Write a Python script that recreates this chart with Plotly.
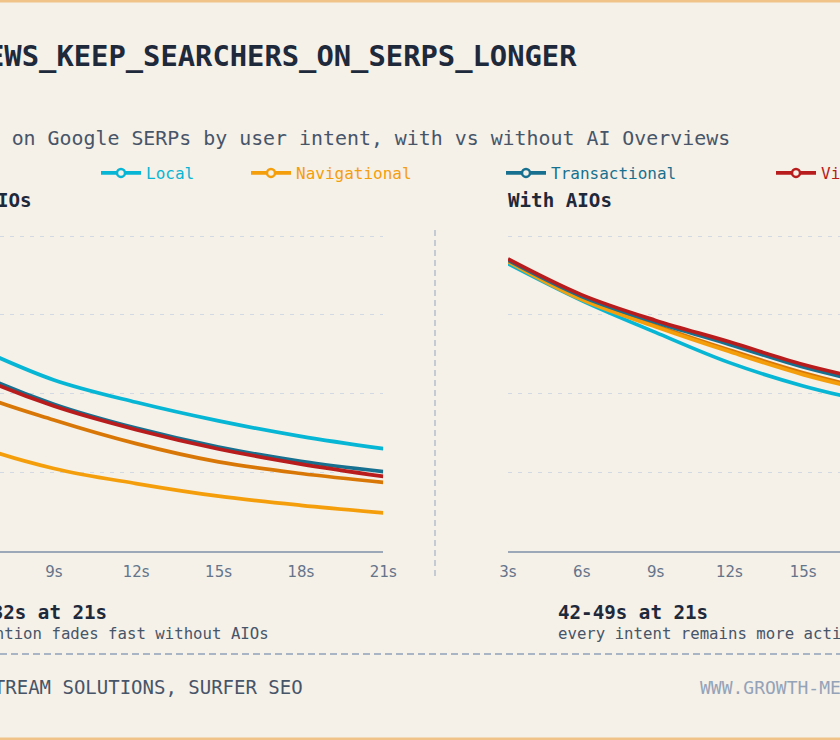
import plotly.graph_objects as go

# ---------------- data ----------------
times = [3, 6, 9, 12, 15, 18, 21]
series = ["Informational", "Local", "Navigational", "Transactional", "Visual"]
colors = ["#d97706", "#06b6d4", "#f59e0b", "#17708f", "#b91c1c"]

without_informational = [64.0, 50.5, 41.6, 34.1, 28.3, 24.6, 21.8]
without_local = [78.0, 65.3, 54.3, 47.2, 41.3, 36.4, 32.5]
without_navigational = [46.0, 34.0, 26.2, 21.4, 17.4, 14.5, 12.1]
without_transactional = [71.0, 57.2, 46.6, 39.0, 33.0, 28.5, 25.2]
without_visual = [70.0, 56.3, 46.0, 38.5, 32.4, 27.6, 23.7]

with_informational = [92.1, 80.1, 71.6, 63.8, 56.6, 50.8, 46.2]
with_local = [91.2, 79.5, 69.4, 59.8, 52.4, 46.8, 42.0]
with_navigational = [91.9, 79.8, 71.2, 63.3, 56.0, 50.3, 45.5]
with_transactional = [92.3, 80.8, 72.6, 65.6, 58.4, 52.8, 48.1]
with_visual = [92.7, 81.3, 73.2, 66.4, 59.2, 53.7, 49.0]

without_values = [without_informational, without_local, without_navigational,
                  without_transactional, without_visual]
with_values = [with_informational, with_local, with_navigational,
               with_transactional, with_visual]

tick_values = [3, 6, 9, 12, 15, 18, 21]
tick_labels = ["3s", "6s", "9s", "12s", "15s", "18s", "21s"]

title_text = "AI_OVERVIEWS_KEEP_SEARCHERS_ON_SERPS_LONGER"
subtitle_text = "Attention span on Google SERPs by user intent, with vs without AI Overviews"
left_panel_title = "Without AIOs"
right_panel_title = "With AIOs"
left_note_bold = "12-32s at 21s"
left_note = "attention fades fast without AIOs"
right_note_bold = "42-49s at 21s"
right_note = "every intent remains more active with AIOs"
footer_left = "SOURCE: UPSTREAM SOLUTIONS, SURFER SEO"
footer_right = "WWW.GROWTH-MEMO.COM"

# ---------------- style ----------------
W, H = 840, 740
BG = "#f5f0e8"
MONO = "DejaVu Sans Mono"
DARK = "#1e293b"
SLATE = "#475569"


def px(x):
    return x / W


def py(y):
    return 1 - y / H


fig = go.Figure()

for name, col, wo, wi in zip(series, colors, without_values, with_values):
    fig.add_trace(go.Scatter(
        x=times, y=wo, mode="lines", name=name,
        line=dict(color=col, width=3.7, shape="spline"),
        xaxis="x", yaxis="y", showlegend=False, hoverinfo="skip"))
    fig.add_trace(go.Scatter(
        x=times, y=wi, mode="lines", name=name,
        line=dict(color=col, width=3.7, shape="spline"),
        xaxis="x2", yaxis="y2", showlegend=False, hoverinfo="skip"))

legend_line_starts = [-171, 100, 250, 505, 775]
legend_ids = ["legend", "legend2", "legend3", "legend4", "legend5"]
for name, col, lid in zip(series, colors, legend_ids):
    fig.add_trace(go.Scatter(
        x=[None], y=[None], mode="lines+markers", name=name,
        line=dict(color=col, width=3.7),
        marker=dict(symbol="circle", size=8, color=BG,
                    line=dict(color=col, width=2.5)),
        xaxis="x2", yaxis="y2", legend=lid, showlegend=True))

legend_layouts = {}
for lid, start, col in zip(legend_ids, legend_line_starts, colors):
    legend_layouts[lid] = dict(
        x=px(start - 4), y=py(173), xanchor="left", yanchor="middle",
        orientation="h", bgcolor="rgba(0,0,0,0)", borderwidth=0,
        itemwidth=40, font=dict(family=MONO, size=16, color=col),
        itemclick=False, itemdoubleclick=False)

axis_common = dict(
    showgrid=False, zeroline=False, showline=True, linecolor="#9ca7b8",
    linewidth=1.5, ticks="", tickvals=tick_values, ticktext=tick_labels,
    tickfont=dict(family="DejaVu Sans", size=15, color="#64748b"),
    ticklabelstandoff=6, fixedrange=True)
yaxis_common = dict(
    range=[0, 102], domain=[py(551), py(551 - 102 * 3.15)],
    showgrid=True, gridcolor="#d2d9e2", gridwidth=1.2, griddash="4px,6px",
    tickvals=[25, 50, 75, 100], showticklabels=False, zeroline=False,
    showline=False, ticks="", fixedrange=True)

fig.update_layout(
    width=W, height=H,
    margin=dict(l=0, r=0, t=0, b=0, autoexpand=False),
    paper_bgcolor=BG, plot_bgcolor=BG,
    xaxis=dict(axis_common, domain=[0, px(383.3)], range=[7.04, 21], anchor="y"),
    yaxis=dict(yaxis_common, anchor="x"),
    xaxis2=dict(axis_common, domain=[px(508), 1], range=[3, 16.5], anchor="y2"),
    yaxis2=dict(yaxis_common, anchor="x2"),
    **legend_layouts,
)

annotations = [
    dict(text=title_text, x=px(-171.5), y=py(56),
         font=dict(family=MONO, size=28.8, color=DARK, weight=700)),
    dict(text=subtitle_text, x=px(-170), y=py(139),
         font=dict(family=MONO, size=19.9, color=SLATE)),
    dict(text=left_panel_title, x=px(-109), y=py(200),
         font=dict(family=MONO, size=19.2, color=DARK, weight=700)),
    dict(text=right_panel_title, x=px(506), y=py(200),
         font=dict(family=MONO, size=19.2, color=DARK, weight=700)),
    dict(text=left_note_bold, x=px(-45), y=py(612),
         font=dict(family=MONO, size=19.2, color=DARK, weight=700)),
    dict(text=left_note, x=px(-45), y=py(633),
         font=dict(family=MONO, size=15.7, color=SLATE)),
    dict(text=right_note_bold, x=px(556), y=py(612),
         font=dict(family=MONO, size=19.2, color=DARK, weight=700)),
    dict(text=right_note, x=px(556), y=py(633),
         font=dict(family=MONO, size=15.7, color=SLATE)),
    dict(text=footer_left, x=px(-134), y=py(687),
         font=dict(family=MONO, size=19, color=SLATE)),
    dict(text=footer_right, x=px(698), y=py(687),
         font=dict(family=MONO, size=18, color="#94a3b8")),
]
for a in annotations:
    a.update(xref="paper", yref="paper", xanchor="left", yanchor="middle",
             showarrow=False)
fig.update_layout(annotations=annotations)

shapes = [
    # top and bottom card border
    dict(type="rect", x0=0, x1=1, y0=py(2.5), y1=1, line=dict(width=0),
         fillcolor="#f0c488"),
    dict(type="rect", x0=0, x1=1, y0=0, y1=py(737.5), line=dict(width=0),
         fillcolor="#f0c488"),
    # vertical divider between panels
    dict(type="line", x0=px(435), x1=px(435), y0=py(230), y1=py(578),
         line=dict(color="#b5bfcc", width=1.5, dash="6px,4px")),
    # horizontal separator above footer
    dict(type="line", x0=0, x1=1, y0=py(654), y1=py(654),
         line=dict(color="#a9b5c5", width=2, dash="7px,4px")),
]
for s in shapes:
    s.update(xref="paper", yref="paper")
fig.update_layout(shapes=shapes)

fig.write_html("out.html")
